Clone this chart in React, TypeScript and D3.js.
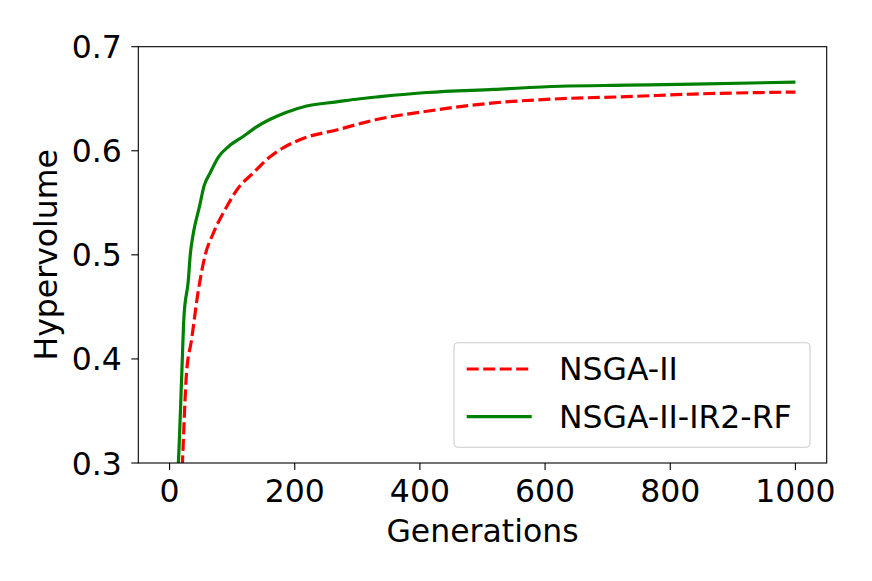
import { useEffect, useRef } from 'react';
import * as d3 from 'd3';

// values
const nsgaGen = [19, 20.5, 27, 35, 46, 57, 70, 91, 107, 134, 160, 182, 219, 267, 304, 331, 411, 518, 624, 730, 837, 1000];
const nsgaHv = [0.28, 0.3, 0.386, 0.418, 0.466, 0.5, 0.521, 0.546, 0.562, 0.579, 0.594, 0.603, 0.613, 0.62, 0.626, 0.63, 0.638, 0.646, 0.65, 0.652, 0.6545, 0.6564];

const rfGen = [12, 14, 19.5, 23, 30, 33, 38, 47.6, 55, 65, 78, 94, 118, 139, 160, 187, 219, 267, 304, 336, 411, 518, 624, 730, 837, 1000];
const rfHv = [0.28, 0.3, 0.386, 0.441, 0.476, 0.5, 0.521, 0.546, 0.566, 0.579, 0.594, 0.604, 0.614, 0.623, 0.63, 0.637, 0.643, 0.647, 0.65, 0.652, 0.656, 0.659, 0.662, 0.663, 0.664, 0.666];

const xTicks = [0, 200, 400, 600, 800, 1000];
const yTicks = [0.3, 0.4, 0.5, 0.6, 0.7];

const series = [
  { name: 'NSGA-II', gen: nsgaGen, hv: nsgaHv, color: '#ff0000', dash: '12,4.5' },
  { name: 'NSGA-II-IR2-RF', gen: rfGen, hv: rfHv, color: '#008000', dash: null as string | null },
];

const W = 872;
const H = 581;
const FONT = 'DejaVu Sans, sans-serif';
const FS = 31.5;

export default function App() {
  const svgRef = useRef<SVGSVGElement>(null);

  useEffect(() => {
    if (!svgRef.current) return;
    const svg = d3.select(svgRef.current);
    svg.selectAll('*').remove();

    const left = 138.3, right = 826.7, top = 46.7, bottom = 463;
    const x = d3.scaleLinear().domain([-50, 1050]).range([left, right]);
    const y = d3.scaleLinear().domain([0.3, 0.7]).range([bottom, top]);

    svg.append('rect').attr('width', W).attr('height', H).attr('fill', '#fff');

    svg.append('defs').append('clipPath').attr('id', 'plot-clip')
      .append('rect').attr('x', left).attr('y', top).attr('width', right - left).attr('height', bottom - top);

    const line = d3.line<[number, number]>()
      .x((d) => x(d[0])).y((d) => y(d[1]))
      .curve(d3.curveMonotoneX);
    const plot = svg.append('g').attr('clip-path', 'url(#plot-clip)');
    series.forEach((s) => {
      const pts = s.gen.map((g, i) => [g, s.hv[i]] as [number, number]);
      plot.append('path')
        .attr('d', line(pts))
        .attr('fill', 'none')
        .attr('stroke', s.color)
        .attr('stroke-width', 3.2)
        .attr('stroke-dasharray', s.dash)
        .attr('stroke-linejoin', 'round');
    });

    // spines
    svg.append('rect')
      .attr('x', left).attr('y', top).attr('width', right - left).attr('height', bottom - top)
      .attr('fill', 'none').attr('stroke', '#000').attr('stroke-width', 1.1);

    const xa = svg.append('g');
    xTicks.forEach((t) => {
      xa.append('line').attr('x1', x(t)).attr('x2', x(t)).attr('y1', bottom).attr('y2', bottom + 7)
        .attr('stroke', '#000').attr('stroke-width', 1.1);
      xa.append('text').attr('x', x(t)).attr('y', bottom + 38.7)
        .attr('text-anchor', 'middle').attr('font-family', FONT).attr('font-size', FS)
        .text(String(t));
    });

    const ya = svg.append('g');
    yTicks.forEach((t) => {
      ya.append('line').attr('x1', left - 7).attr('x2', left).attr('y1', y(t)).attr('y2', y(t))
        .attr('stroke', '#000').attr('stroke-width', 1.1);
      ya.append('text').attr('x', left - 16.5).attr('y', y(t) + 11.5)
        .attr('text-anchor', 'end').attr('font-family', FONT).attr('font-size', FS)
        .text(d3.format('.1f')(t));
    });

    svg.append('text').attr('x', (left + right) / 2).attr('y', 541.7)
      .attr('text-anchor', 'middle').attr('font-family', FONT).attr('font-size', FS)
      .text('Generations');
    svg.append('text')
      .attr('transform', `translate(57,${(top + bottom) / 2}) rotate(-90)`)
      .attr('text-anchor', 'middle').attr('font-family', FONT).attr('font-size', FS)
      .text('Hypervolume');

    // legend
    const lg = svg.append('g');
    lg.append('rect').attr('x', 454).attr('y', 342.7).attr('width', 356).attr('height', 104.6)
      .attr('rx', 4).attr('fill', '#fff').attr('fill-opacity', 0.8)
      .attr('stroke', '#cccccc').attr('stroke-width', 1.1);
    series.forEach((s, i) => {
      const ly = 369 + i * 47.7;
      lg.append('line').attr('x1', 466.7).attr('x2', 531.7).attr('y1', ly).attr('y2', ly)
        .attr('stroke', s.color).attr('stroke-width', 3.2).attr('stroke-dasharray', s.dash);
      lg.append('text').attr('x', 559).attr('y', ly + 11)
        .attr('font-family', FONT).attr('font-size', FS).text(s.name);
    });
  }, []);

  return (
    <svg ref={svgRef} width={W} height={H}
      style={{ position: 'absolute', left: 0, top: 0, display: 'block' }} />
  );
}
